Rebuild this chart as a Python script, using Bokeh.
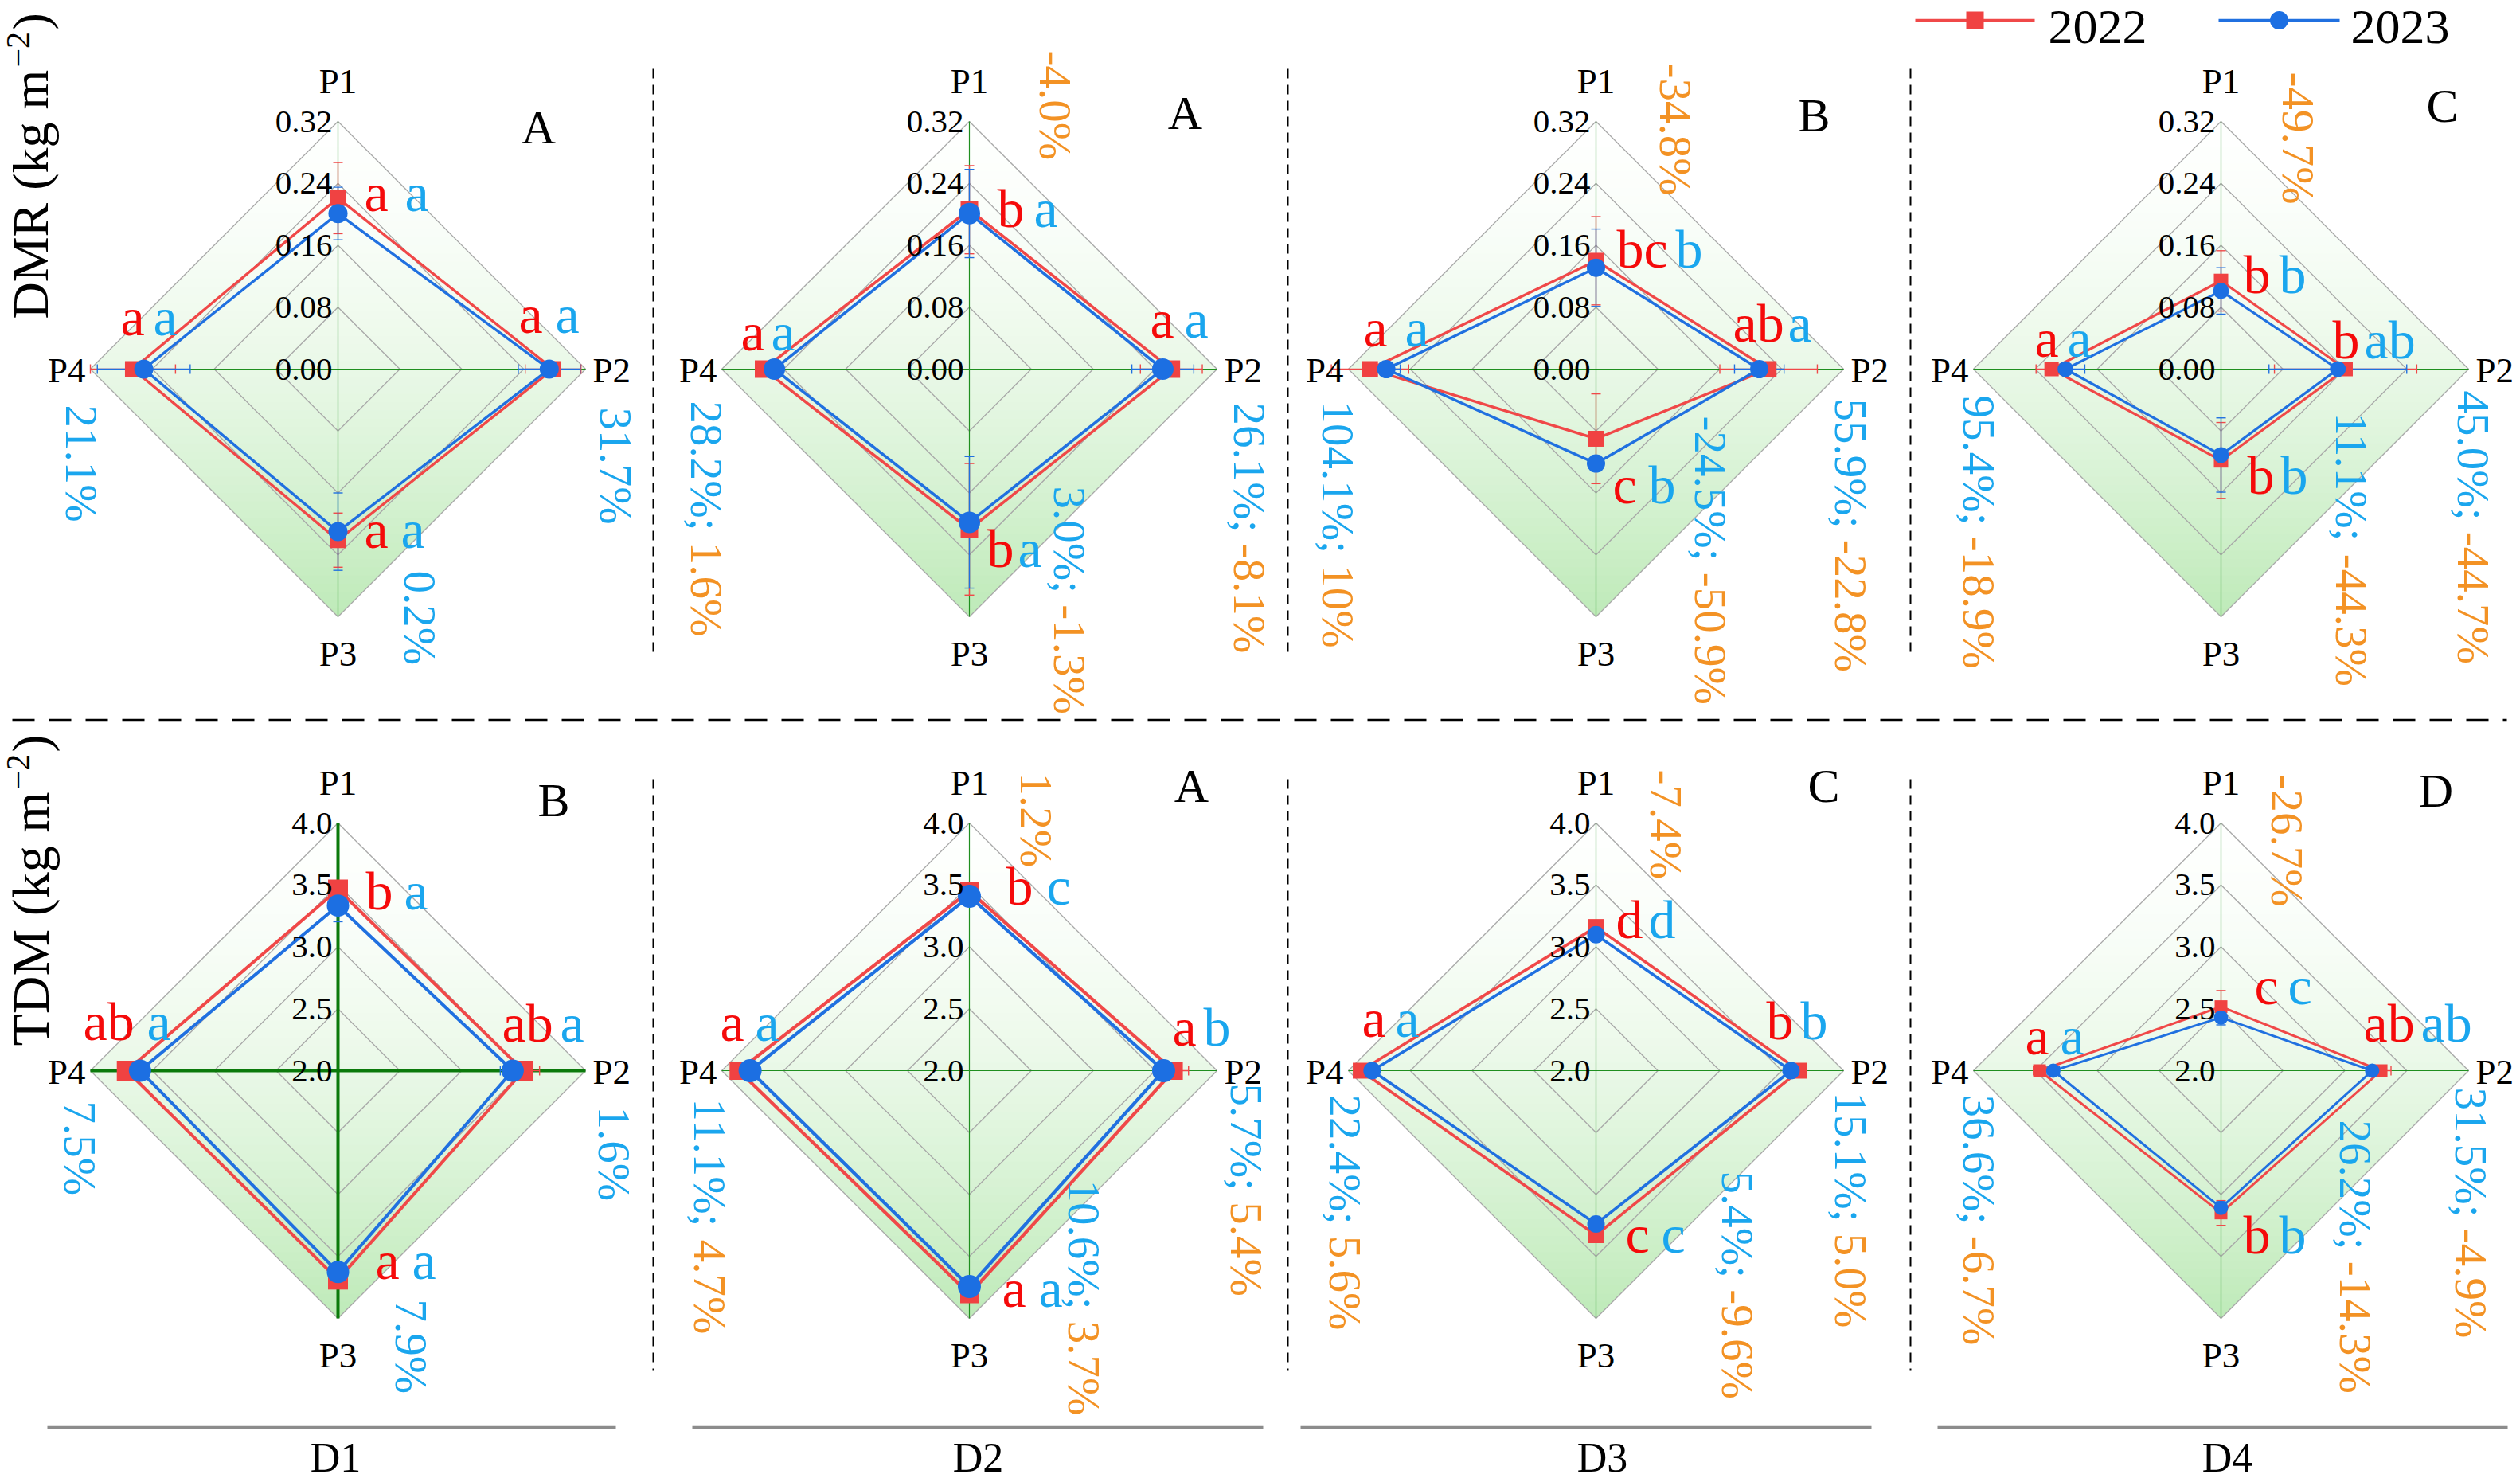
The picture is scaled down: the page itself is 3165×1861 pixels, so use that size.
import math
from bokeh.plotting import figure
from bokeh.models import Range1d
from bokeh.embed import file_html
from bokeh.resources import INLINE
from bokeh.core.properties import value

# ---------------- data ----------------
positions = ["P1", "P2", "P3", "P4"]
sites = ["D1", "D2", "D3", "D4"]
years = ["2022", "2023"]

# DMR (kg m-2), rows = D1..D4, columns = P1..P4
dmr_2022 = [[0.221, 0.278, 0.221, 0.265],
            [0.206, 0.261, 0.207, 0.266],
            [0.140, 0.223, 0.090, 0.292],
            [0.114, 0.161, 0.118, 0.219]]
dmr_2023 = [[0.201, 0.273, 0.210, 0.251],
            [0.201, 0.250, 0.198, 0.252],
            [0.131, 0.211, 0.122, 0.271],
            [0.101, 0.151, 0.111, 0.201]]
dmr_err_2022 = [[0.046, 0.036, 0.035, 0.055],
                [0.057, 0.040, 0.085, 0.010],
                [0.057, 0.063, 0.058, 0.050],
                [0.039, 0.092, 0.049, 0.020]]
dmr_err_2023 = [[0.034, 0.040, 0.050, 0.060],
                [0.057, 0.040, 0.085, 0.010],
                [0.050, 0.032, 0.010, 0.018],
                [0.030, 0.089, 0.048, 0.025]]

# TDM (kg m-2)
tdm_2022 = [[3.463, 3.498, 3.687, 3.706],
            [3.449, 3.650, 3.804, 3.863],
            [3.160, 3.642, 3.328, 3.900],
            [2.517, 3.293, 3.149, 3.466]]
tdm_2023 = [[3.333, 3.411, 3.626, 3.599],
            [3.408, 3.569, 3.743, 3.771],
            [3.098, 3.575, 3.238, 3.808],
            [2.430, 3.221, 3.107, 3.355]]
tdm_err_2022 = [[0.06, 0.13, 0.05, 0.05],
                [0.05, 0.12, 0.04, 0.04],
                [0.05, 0.05, 0.05, 0.05],
                [0.13, 0.08, 0.10, 0.05]]
tdm_err_2023 = [[0.13, 0.10, 0.05, 0.05],
                [0.05, 0.05, 0.04, 0.04],
                [0.05, 0.05, 0.05, 0.05],
                [0.06, 0.05, 0.05, 0.05]]

dmr_ticks = [0.00, 0.08, 0.16, 0.24, 0.32]
dmr_tick_labels = ["0.00", "0.08", "0.16", "0.24", "0.32"]
tdm_ticks = [2.0, 2.5, 3.0, 3.5, 4.0]
tdm_tick_labels = ["2.0", "2.5", "3.0", "3.5", "4.0"]

dmr_let_2022 = [["a", "a", "a", "a"], ["b", "a", "b", "a"], ["bc", "ab", "c", "a"], ["b", "b", "b", "a"]]
dmr_let_2023 = [["a", "a", "a", "a"], ["a", "a", "a", "a"], ["b", "a", "b", "a"], ["b", "ab", "b", "a"]]
tdm_let_2022 = [["b", "ab", "a", "ab"], ["b", "a", "a", "a"], ["d", "b", "c", "a"], ["c", "ab", "b", "a"]]
tdm_let_2023 = [["a", "a", "a", "a"], ["c", "b", "a", "a"], ["d", "b", "c", "a"], ["c", "ab", "b", "a"]]

dmr_group = ["A", "A", "B", "C"]
tdm_group = ["B", "A", "C", "D"]

dmr_pct_blue = [[None, "31.7%", "0.2%", "21.1%"],
                [None, "26.1%;", "3.0%;", "28.2%;"],
                [None, "55.9%;", "-24.5%;", "104.1%;"],
                [None, "45.0%;", "11.1%;", "95.4%;"]]
dmr_pct_orange = [[None, None, None, None],
                  ["-4.0%", "-8.1%", "-1.3%", "1.6%"],
                  ["-34.8%", "-22.8%", "-50.9%", "10%"],
                  ["-49.7%", "-44.7%", "-44.3%", "-18.9%"]]
tdm_pct_blue = [[None, "1.6%", "7.9%", "7.5%"],
                [None, "5.7%;", "10.6%;", "11.1%;"],
                [None, "15.1%;", "5.4%;", "22.4%;"],
                [None, "31.5%;", "26.2%;", "36.6%;"]]
tdm_pct_orange = [[None, None, None, None],
                  ["1.2%", "5.4%", "3.7%", "4.7%"],
                  ["-7.4%", "5.0%", "-9.6%", "5.6%"],
                  ["-26.7%", "-4.9%", "-14.3%", "-6.7%"]]

# ---------------- layout (page pixel units) ----------------
W, H = 3164, 1860
CX = [424, 1217, 2004, 2789]
CY = [463, 1344]
R = 311
DIRS = [(0, -1), (1, 0), (0, 1), (-1, 0)]

# percent label anchors (dx, dy of text start) per panel / axis
PCT_POS = [
    [None, (349, 48), (103, 253), (-322, 45)],
    [(108, -400), (352, 42), (126, 147), (-330, 40)],
    [(100, -384), (320, 37), (144, 59), (-324, 40)],
    [(97, -373), (317, 27), (164, 55), (-304, 33)],
    [None, (347, 45), (92, 287), (-324, 38)],
    [(84, -374), (348, 16), (144, 137), (-326, 35)],
    [(88, -378), (320, 27), (178, 126), (-315, 30)],
    [(83, -372), (314, 21), (169, 62), (-304, 30)],
]
# significance letters (red dx, blue dx, dy of x-height centre)
LET_POS = [
    [(33, 84, -215), (227, 273, -62), (33, 79, 208), (-273, -232, -59)],
    [(35, 81, -195), (227, 270, -56), (22, 61, 232), (-287, -249, -40)],
    [(26, 100, -144), (172, 241, -51), (21, 66, 152), (-292, -240, -45)],
    [(28, 73, -112), (140, 180, -30), (33, 75, 140), (-234, -193, -32)],
    [(35, 83, -219), (206, 279, -53), (47, 93, 245), (-320, -240, -55)],
    [(46, 97, -225), (255, 294, -48), (41, 87, 280), (-313, -269, -54)],
    [(25, 66, -183), (214, 257, -56), (37, 82, 212), (-294, -252, -59)],
    [(42, 84, -100), (179, 251, -53), (28, 73, 213), (-246, -202, -37)],
]
GROUP_POS = [(252, -304), (271, -322), (274, -319), (278, -331),
             (271, -340), (279, -358), (286, -358), (270, -352)]
AXIS_W = [1.2, 1.2, 1.2, 1.2, 4.0, 1.2, 1.2, 1.2]
AXIS_C = ["#1f8f1f"] * 4 + ["#0b7a0b"] + ["#1f8f1f"] * 3
SQ_SIZE = [20, 22, 20, 18, 25, 23, 20, 16]
CI_SIZE = [24, 27, 23, 20, 28, 29, 22, 18]
LINE_W = [3.4, 3.6, 3.4, 3.2, 4.0, 4.2, 3.6, 3.0]

FONT = value("Liberation Serif")
RED_LINE, RED_MK, RED_TXT = "#f04848", "#f04242", "#f50a0a"
BLUE_LINE, BLUE_MK, BLUE_TXT = "#2070e0", "#1c6fe2", "#1aa6ee"
ORANGE = "#f39224"

CW = {'0': .5, '1': .5, '2': .5, '3': .5, '4': .5, '5': .5, '6': .5, '7': .5, '8': .5, '9': .5,
      '.': .25, '%': .833, ';': .278, ' ': .25, '-': .333}


def twidth(s, fs):
    return sum(CW.get(c, .5) for c in s) * fs


p = figure(width=W, height=H, x_range=Range1d(0, W), y_range=Range1d(H, 0),
           output_backend="svg", toolbar_location=None, min_border=0)
p.axis.visible = False
p.grid.visible = False
p.outline_line_color = None
p.background_fill_color = "white"

TOP_C = (254, 255, 254)
BOT_C = (190, 234, 184)
NB = 60

for row in range(2):
    for col in range(4):
        idx = row * 4 + col
        cx, cy = CX[col], CY[row]
        if row == 0:
            s22, s23 = dmr_2022[col], dmr_2023[col]
            e22, e23 = dmr_err_2022[col], dmr_err_2023[col]
            ticks, tlabels = dmr_ticks, dmr_tick_labels
            l22, l23 = dmr_let_2022[col], dmr_let_2023[col]
            grp = dmr_group[col]
            pb, po = dmr_pct_blue[col], dmr_pct_orange[col]
        else:
            s22, s23 = tdm_2022[col], tdm_2023[col]
            e22, e23 = tdm_err_2022[col], tdm_err_2023[col]
            ticks, tlabels = tdm_ticks, tdm_tick_labels
            l22, l23 = tdm_let_2022[col], tdm_let_2023[col]
            grp = tdm_group[col]
            pb, po = tdm_pct_blue[col], tdm_pct_orange[col]
        vmin, vmax = ticks[0], ticks[-1]

        def rad(v):
            return (v - vmin) / (vmax - vmin) * R

        # gradient fill inside the outer diamond
        bxs, bys, bcols = [], [], []
        for b in range(NB):
            y0 = cy - R + b * 2 * R / NB
            y1 = min(cy + R, y0 + 2 * R / NB + 0.8)
            yy = [y0, y1]
            if y0 < cy < y1:
                yy = [y0, cy, y1]
            left = [cx - (R - abs(y - cy)) for y in yy]
            right = [cx + (R - abs(y - cy)) for y in reversed(yy)]
            bxs.append(left + right)
            bys.append(yy + list(reversed(yy)))
            t = ((y0 + y1) / 2 - (cy - R)) / (2 * R)
            t = t ** 1.6
            c = tuple(int(round(TOP_C[i] + (BOT_C[i] - TOP_C[i]) * t)) for i in range(3))
            bcols.append("#%02x%02x%02x" % c)
        p.patches(bxs, bys, fill_color=bcols, line_color=None)

        # grid diamonds
        for tv in ticks[1:]:
            rr = rad(tv)
            p.line([cx, cx + rr, cx, cx - rr, cx], [cy - rr, cy, cy + rr, cy, cy - rr],
                   line_color="#a8a8a8", line_width=1.3)
        # axes
        for (dx, dy) in DIRS:
            p.line([cx, cx + dx * R], [cy, cy + dy * R], line_color=AXIS_C[idx], line_width=AXIS_W[idx])

        # error bars
        for vals, errs, colr in ((s22, e22, RED_LINE), (s23, e23, BLUE_LINE)):
            x0s, y0s, x1s, y1s = [], [], [], []
            for k, (dx, dy) in enumerate(DIRS):
                ra, rb = rad(vals[k] - errs[k]), rad(vals[k] + errs[k])
                x0s.append(cx + dx * ra); y0s.append(cy + dy * ra)
                x1s.append(cx + dx * rb); y1s.append(cy + dy * rb)
                for rr in (ra, rb):
                    px, py = cx + dx * rr, cy + dy * rr
                    x0s.append(px - abs(dy) * 6); y0s.append(py - abs(dx) * 6)
                    x1s.append(px + abs(dy) * 6); y1s.append(py + abs(dx) * 6)
            p.segment(x0s, y0s, x1s, y1s, line_color=colr, line_width=1.4)

        # series polygons and markers
        for vals, lc, mc, mk, ms in ((s22, RED_LINE, RED_MK, "square", SQ_SIZE[idx]),
                                     (s23, BLUE_LINE, BLUE_MK, "circle", CI_SIZE[idx])):
            xs = [cx + DIRS[k][0] * rad(vals[k]) for k in range(4)]
            ys = [cy + DIRS[k][1] * rad(vals[k]) for k in range(4)]
            p.line(xs + xs[:1], ys + ys[:1], line_color=lc, line_width=LINE_W[idx], line_join="miter")
            p.scatter(xs, ys, marker=mk, size=ms, fill_color=mc, line_color=None)

        # tick labels on P1 axis
        p.text([cx - 7] * len(ticks), [cy - rad(tv) for tv in ticks], text=tlabels,
               text_font=FONT, text_font_size="41px", text_color="black",
               text_align="right", text_baseline="middle")

        # axis names
        p.text([cx, cx + R + 9, cx, cx - R - 6],
               [cy - R - 51, cy + 1, cy + R + 46, cy + 1],
               text=positions, text_font=FONT, text_font_size="45px", text_color="black",
               text_align=["center", "left", "center", "right"], text_baseline="middle")

        # group letter
        gx, gy = GROUP_POS[idx]
        p.text([cx + gx], [cy + gy], text=[grp], text_font=FONT, text_font_size="60px",
               text_color="black", text_align="center", text_baseline="middle")

        # significance letters
        lx, ly, lt, lcol = [], [], [], []
        for k in range(4):
            rdx, bdx, dyy = LET_POS[idx][k]
            lx += [cx + rdx, cx + bdx]
            ly += [cy + dyy - 7, cy + dyy - 7]
            lt += [l22[k], l23[k]]
            lcol += [RED_TXT, BLUE_TXT]
        p.text(lx, ly, text=lt, text_font=FONT, text_font_size="68px", text_color=lcol,
               text_align="left", text_baseline="middle")

        # percentage texts (rotated, reading downwards)
        px_, py_, pt_, pc_ = [], [], [], []
        for k in range(4):
            pos = PCT_POS[idx][k]
            if pos is None:
                continue
            ax, ay = cx + pos[0], cy + pos[1]
            if pb[k] is not None:
                px_.append(ax); py_.append(ay); pt_.append(pb[k]); pc_.append(BLUE_TXT)
                if po[k] is not None:
                    px_.append(ax); py_.append(ay + twidth(pb[k] + " ", 57))
                    pt_.append(po[k]); pc_.append(ORANGE)
            elif po[k] is not None:
                px_.append(ax); py_.append(ay); pt_.append(po[k]); pc_.append(ORANGE)
        p.text(px_, py_, text=pt_, text_font=FONT, text_font_size="57px", text_color=pc_,
               angle=-math.pi / 2, text_align="left", text_baseline="middle")

# ---------------- separators ----------------
p.line([15, 3148], [904, 904], line_color="black", line_width=3.5, line_dash="28 18")
for vx in (820, 1617, 2399):
    p.line([vx, vx], [86, 826], line_color="black", line_width=2, line_dash="12 8")
    p.line([vx, vx], [978, 1720], line_color="black", line_width=2, line_dash="12 8")

# site baselines and labels
SITE_LINE = [(59, 773), (869, 1586), (1633, 2350), (2433, 3149)]
SITE_X = [421, 1228, 2012, 2797]
for (x0, x1) in SITE_LINE:
    p.line([x0, x1], [1792, 1792], line_color="#8c8c8c", line_width=3.5)
p.text(SITE_X, [1830] * 4, text=sites, text_font=FONT, text_font_size="52px",
       text_color="black", text_align="center", text_baseline="middle")

# y-axis titles (rotated), with superscript
for (label, y0, fs) in (("DMR (kg m", 400, 64), ("TDM (kg m", 1313, 66)):
    wmain = sum({'D': .722, 'M': .889, 'R': .667, 'T': .611, ' ': .25, '(': .333,
                 'k': .5, 'g': .5, 'm': .778}[c] for c in label) * fs
    p.text([38], [y0], text=[label], text_font=FONT, text_font_size="%dpx" % fs,
           text_color="black", angle=math.pi / 2, text_align="left", text_baseline="middle")
    p.text([22], [y0 - wmain - 3], text=["\u22122"], text_font=FONT, text_font_size="42px",
           text_color="black", angle=math.pi / 2, text_align="left", text_baseline="middle")
    p.text([38], [y0 - wmain - 50], text=[")"], text_font=FONT, text_font_size="%dpx" % fs,
           text_color="black", angle=math.pi / 2, text_align="left", text_baseline="middle")

# legend
p.line([2405, 2555], [25, 25], line_color=RED_LINE, line_width=3.4)
p.scatter([2480], [25], marker="square", size=22, fill_color=RED_MK, line_color=None)
p.line([2786, 2938], [25, 25], line_color=BLUE_LINE, line_width=3.4)
p.scatter([2862], [25], marker="circle", size=23, fill_color=BLUE_MK, line_color=None)
p.text([2572, 2952], [33, 33], text=years, text_font=FONT, text_font_size="62px",
       text_color="black", text_align="left", text_baseline="middle")

open("out.html", "w").write(file_html(p, INLINE))
